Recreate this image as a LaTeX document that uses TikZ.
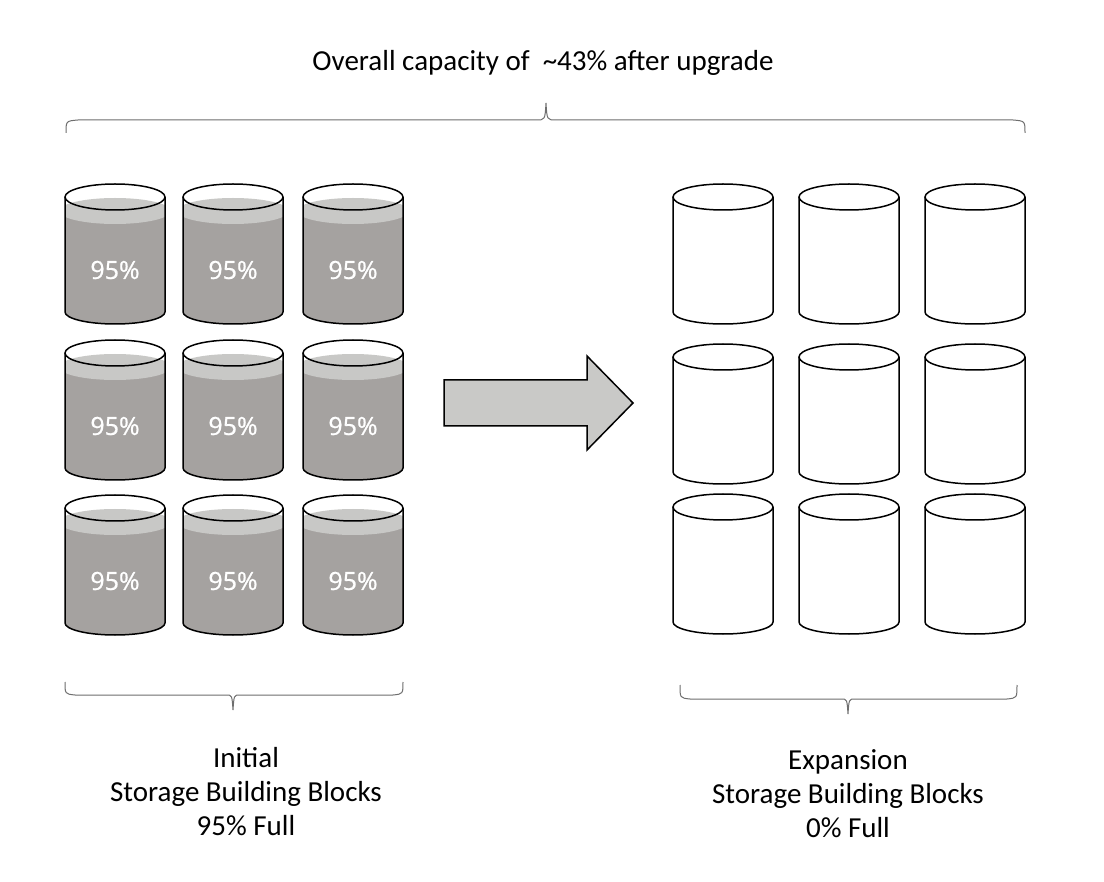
\documentclass[tikz,border=0pt]{standalone}
\usepackage{fontspec}
\setmainfont{Carlito}
\newfontfamily\pctfont[FakeBold=0.8]{Open Sans}
\definecolor{liqdark}{HTML}{A5A2A0}
\definecolor{liqlight}{HTML}{C8C8C6}
\definecolor{arrowfill}{HTML}{C9C9C7}
\definecolor{bracecol}{HTML}{6E6E6E}
\tikzset{
  cylline/.style={draw=black, line width=1.5pt, line join=round},
  pcttext/.style={text=white, font=\pctfont\fontsize{25}{30}\selectfont, inner sep=0pt},
  labeltext/.style={align=center, font=\fontsize{29}{34}\selectfont, inner sep=0pt},
  bracestyle/.style={draw=bracecol, line width=1pt},
  fullcyl/.pic={
    \fill[liqdark] (-50,27) -- (-50,128) .. controls (-50,134.6) and (-27.6,140) .. (0,140)
      .. controls (27.6,140) and (50,134.6) .. (50,128) -- (50,27) -- cycle;
    \begin{scope}
      \clip (-50,13) -- (-50,128) .. controls (-50,134.6) and (-27.6,140) .. (0,140)
        .. controls (27.6,140) and (50,134.6) .. (50,128) -- (50,13) -- cycle;
      \fill[liqlight] (0,27) ellipse [x radius=56, y radius=13];
    \end{scope}
    \draw[cylline] (-50,13) -- (-50,128) .. controls (-50,134.6) and (-27.6,140) .. (0,140)
      .. controls (27.6,140) and (50,134.6) .. (50,128) -- (50,13);
    \draw[cylline] (0,13) ellipse [x radius=50, y radius=13];
    \node[pcttext] (-pct) at (0,86) {95\%};
  },
  emptycyl/.pic={
    \draw[cylline, fill=white] (-50,13) -- (-50,128) .. controls (-50,134.6) and (-27.6,140) .. (0,140)
      .. controls (27.6,140) and (50,134.6) .. (50,128) -- (50,13);
    \draw[cylline] (0,13) ellipse [x radius=50, y radius=13];
  }
}
\begin{document}
\begin{tikzpicture}[x=1pt, y=-1pt]
\useasboundingbox (0,0) rectangle (1104,882);
\fill[white] (0,0) rectangle (1104,882);

% title and top brace
\node[labeltext] (title) at (543,63) {Overall capacity of\ \ \textasciitilde43\% after upgrade};
\draw[bracestyle] (66,133) .. controls (66,121) .. (78,120) -- (536,120)
  .. controls (545,120) .. (546,103) .. controls (547,120) .. (556,120) -- (1013,120)
  .. controls (1025,121) .. (1025,133);

% left cylinders (full)
\foreach \r/\ty in {1/184, 2/340, 3/495}{
  \foreach \c/\cx in {1/115, 2/233, 3/353}{
    \pic (L\r\c) at (\cx,\ty) {fullcyl};
  }
}
% right cylinders (empty)
\foreach \r/\ty in {1/184, 2/344, 3/494}{
  \foreach \c/\cx in {1/723, 2/849, 3/975}{
    \pic (R\r\c) at (\cx,\ty) {emptycyl};
  }
}

% block arrow
\draw[fill=arrowfill, draw=black, line width=1.5pt, line join=miter]
  (444,380) -- (587,380) -- (587,356) -- (633,403) -- (587,450) -- (587,426) -- (444,426) -- cycle;

% bottom braces
\draw[bracestyle] (65,682) .. controls (65,694) .. (75,695) -- (226,695)
  .. controls (232,695) .. (233,710) .. controls (234,695) .. (240,695) -- (393,695)
  .. controls (403,694) .. (403,682);
\draw[bracestyle] (680,685) .. controls (680,698) .. (690,699) -- (841,699)
  .. controls (847,699) .. (848,714) .. controls (849,699) .. (855,699) -- (1007,699)
  .. controls (1017,698) .. (1017,685);

% bottom labels
\node[labeltext] (initlbl) at (246,792) {Initial\\Storage Building Blocks\\95\% Full};
\node[labeltext] (explbl) at (848,794) {Expansion\\Storage Building Blocks\\0\% Full};
\end{tikzpicture}
\end{document}
